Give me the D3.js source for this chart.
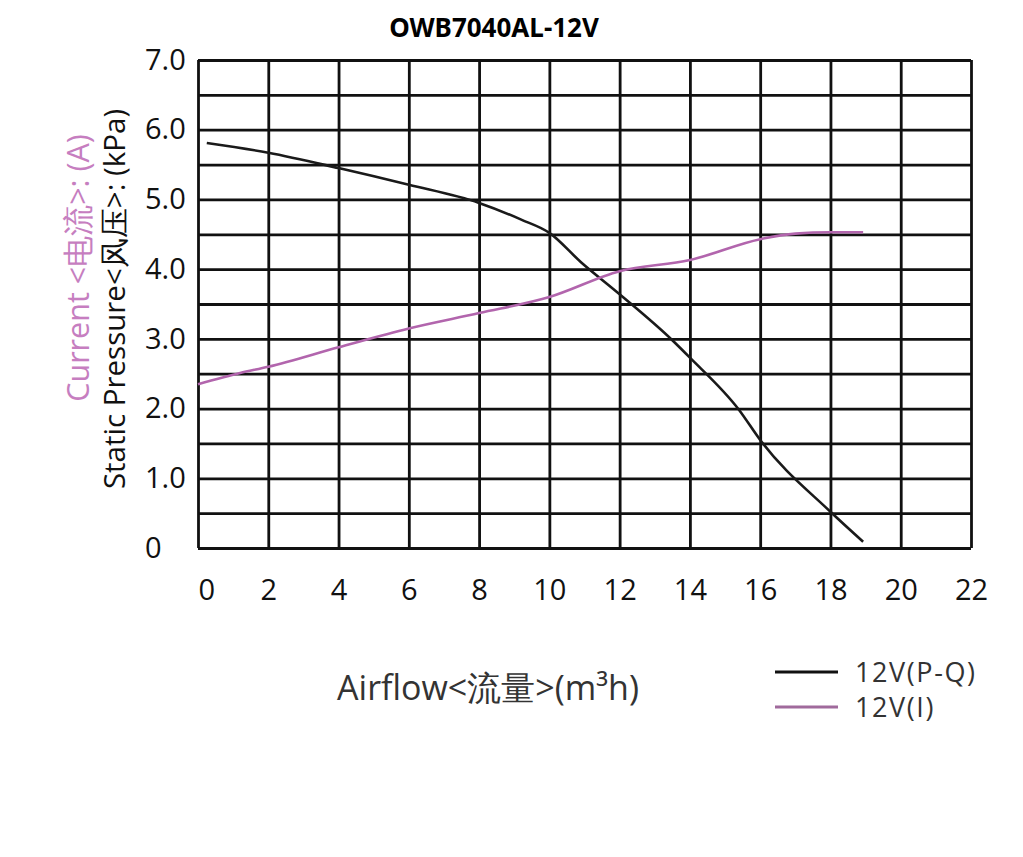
<!DOCTYPE html>
<html><head><meta charset="utf-8">
<script src="https://cdn.jsdelivr.net/npm/d3@7"></script>
<style>body{margin:0;background:#fff}svg{display:block}</style>
</head><body><svg id="c" width="1023" height="857"></svg>
<script>
const chartTitle = "OWB7040AL-12V";
const xTicks = [0, 2, 4, 6, 8, 10, 12, 14, 16, 18, 20, 22];
const yTicks = [0, 1, 2, 3, 4, 5, 6, 7];
const yGrid = [0, 0.5, 1, 1.5, 2, 2.5, 3, 3.5, 4, 4.5, 5, 5.5, 6, 6.5, 7];
const pqFlow     = [0.25, 2, 4, 6, 8, 9.2, 10, 10.9, 12, 13.5, 14, 15.4, 16, 18, 18.93];
const pqPressure = [5.81, 5.67, 5.45, 5.21, 4.95, 4.71, 4.52, 4.1, 3.64, 2.98, 2.73, 1.98, 1.55, 0.52, 0.09];
const iFlow    = [0, 1.2, 2, 4, 6, 8, 10, 12, 14, 16, 17, 18, 18.93];
const iCurrent = [2.35, 2.51, 2.6, 2.88, 3.15, 3.37, 3.6, 3.97, 4.13, 4.43, 4.51, 4.53, 4.53];
const seriesNames = ["12V(P-Q)", "12V(I)"];
const xTitle = "Airflow<流量>(m³h)";
const yTitle = "Static Pressure<风压>: (kPa)";
const y2Title = "Current <电流>: (A)";

const colors = ["#1a1a1a", "#b265ad"];
const legendColors = ["#111", "#a06a9c"];
const svg = d3.select("#c");
const L = 198, R = 971, T = 60, B = 548;
const x = d3.scaleLinear().domain([0, 22]).range([L, R]);
const y = d3.scaleLinear().domain([0, 7]).range([B, T]);

// title
svg.append("text").attr("x", 494).attr("y", 37).attr("text-anchor", "middle")
  .attr("font-family", "'Noto Sans', 'Open Sans', sans-serif").attr("font-weight", "bold")
  .attr("font-size", 26).attr("fill", "#000").text(chartTitle);

// grid
const gx = svg.append("g").attr("transform", `translate(0,${B})`)
  .call(d3.axisBottom(x).tickValues(xTicks).tickSize(-(B - T)).tickFormat(""));
const gy = svg.append("g").attr("transform", `translate(${L},0)`)
  .call(d3.axisLeft(y).tickValues(yGrid).tickSize(-(R - L)).tickFormat(""));
[gx, gy].forEach(g => {
  g.select(".domain").remove();
  g.selectAll(".tick line").attr("stroke", "#111").attr("stroke-width", 2.8);
});

// tick labels
const tickFont = "'Open Sans', sans-serif";
const ax = svg.append("g").attr("transform", `translate(0,${B})`)
  .call(d3.axisBottom(x).tickValues(xTicks).tickSize(0).tickPadding(31));
ax.select(".domain").remove();
ax.selectAll("text").attr("font-family", tickFont).attr("font-size", 29).attr("fill", "#111")
  .attr("font-weight", 500)
  .attr("text-anchor", (d, i) => i === 0 ? "start" : "middle");

const ay = svg.append("g").attr("transform", `translate(${L},0)`)
  .call(d3.axisLeft(y).tickValues(yTicks).tickSize(0)
    .tickFormat(v => v === 0 ? "0" : d3.format(".1f")(v)));
ay.select(".domain").remove();
ay.selectAll("text").attr("font-family", tickFont).attr("font-size", 29).attr("fill", "#111")
  .attr("font-weight", 500)
  .attr("text-anchor", "start").attr("x", 145 - L);

// curves
const line = d3.line().x(d => x(d[0])).y(d => y(d[1])).curve(d3.curveMonotoneX);
const series = [
  d3.zip(pqFlow, pqPressure),
  d3.zip(iFlow, iCurrent)
];
svg.selectAll("path.curve").data(series).enter().append("path")
  .attr("class", "curve").attr("d", line).attr("fill", "none")
  .attr("stroke", (d, i) => colors[i]).attr("stroke-width", 2.6);

// axis titles
const titleFont = "'Open Sans', 'Noto Sans', sans-serif";
svg.append("text").attr("transform", "translate(125,299) rotate(-90)")
  .attr("text-anchor", "middle").attr("font-family", titleFont).attr("font-size", 29.5)
  .attr("fill", "#111").text(yTitle);
svg.append("text").attr("transform", "translate(89,268) rotate(-90)")
  .attr("text-anchor", "middle").attr("font-family", titleFont).attr("font-size", 30.5)
  .attr("fill", "#c67ec0").text(y2Title);
svg.append("text").attr("x", 488).attr("y", 700).attr("text-anchor", "middle")
  .attr("font-family", titleFont).attr("font-size", 34).attr("fill", "#333").text(xTitle);

// legend
const lg = svg.append("g");
seriesNames.forEach((name, i) => {
  const cy = 672 + i * 35;
  lg.append("line").attr("x1", 775).attr("x2", 838).attr("y1", cy).attr("y2", cy)
    .attr("stroke", legendColors[i]).attr("stroke-width", 3);
  lg.append("text").attr("x", 855).attr("y", cy).attr("dy", "0.36em")
    .attr("font-family", titleFont).attr("font-size", 27).attr("letter-spacing", 1.6)
    .attr("fill", "#333").text(name);
});
</script></body></html>
